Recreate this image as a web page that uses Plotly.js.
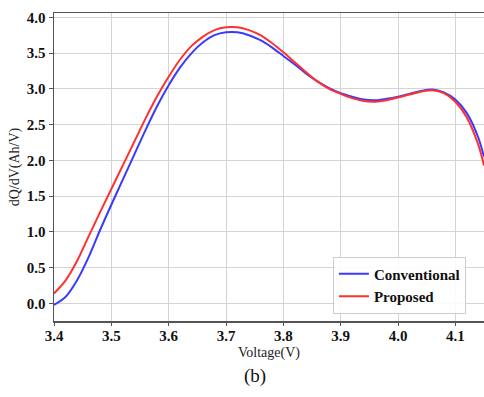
<!DOCTYPE html>
<html><head><meta charset="utf-8">
<script src="https://cdn.plot.ly/plotly-3.0.1.min.js"></script>
<style>html,body{margin:0;padding:0;background:#fff}#c{width:484px;height:397px}</style>
</head><body><div id="c"></div>
<script>
const voltage = [3.40,3.42,3.44,3.46,3.48,3.50,3.52,3.54,3.56,3.58,3.60,3.62,3.64,3.66,3.68,3.70,3.72,3.74,3.76,3.78,3.80,3.82,3.84,3.86,3.88,3.90,3.92,3.94,3.96,3.98,4.00,4.02,4.04,4.06,4.08,4.10,4.12,4.14,4.15];
const conventional = [-0.02,0.09,0.32,0.64,1.02,1.38,1.73,2.08,2.43,2.76,3.05,3.30,3.50,3.65,3.75,3.79,3.79,3.75,3.68,3.58,3.46,3.34,3.21,3.10,3.01,2.94,2.89,2.85,2.84,2.86,2.89,2.93,2.97,2.99,2.95,2.85,2.66,2.32,2.05];
const proposed = [0.14,0.32,0.59,0.93,1.27,1.60,1.93,2.26,2.59,2.90,3.17,3.41,3.60,3.73,3.82,3.86,3.86,3.82,3.75,3.64,3.51,3.37,3.23,3.10,3.00,2.93,2.87,2.83,2.82,2.84,2.88,2.92,2.96,2.98,2.94,2.82,2.60,2.22,1.93];
const xTicks = [3.4,3.5,3.6,3.7,3.8,3.9,4.0,4.1];
const yTicks = [0.0,0.5,1.0,1.5,2.0,2.5,3.0,3.5,4.0];

const serif = "Liberation Serif, Times New Roman, serif";
const traces = [
  {x: voltage, y: conventional, name: "<b>Conventional</b>", mode: "lines", line: {color: "#3a3aff", width: 2, shape: "spline", smoothing: 0.8}},
  {x: voltage, y: proposed, name: "<b>Proposed</b>", mode: "lines", line: {color: "#ff3030", width: 2, shape: "spline", smoothing: 0.8}}
];
const layout = {
  width: 484, height: 397,
  margin: {l: 54, r: 0, t: 13, b: 76},
  paper_bgcolor: "#fff", plot_bgcolor: "#fff",
  font: {family: serif, color: "#111"},
  showlegend: true,
  xaxis: {
    range: [3.4, 4.15], tickvals: xTicks, ticktext: xTicks.map(v => "<b>" + v.toFixed(1) + "</b>"),
    tickfont: {size: 15, family: serif, color: "#111"},
    showgrid: true, gridcolor: "#d4d4d4", gridwidth: 1, zeroline: false,
    showline: true, linecolor: "#555", linewidth: 1.5, mirror: true,
    ticks: "outside", ticklen: 3, tickcolor: "#555", ticklabelstandoff: -3,
    title: {text: "Voltage(V)", font: {size: 14, family: serif, color: "#222"}, standoff: 4}
  },
  yaxis: {
    range: [-0.245, 4.06], tickvals: yTicks, ticktext: yTicks.map(v => "<b>" + v.toFixed(1) + "</b>"),
    tickfont: {size: 15, family: serif, color: "#111"},
    showgrid: true, gridcolor: "#d4d4d4", gridwidth: 1, zeroline: false,
    showline: true, linecolor: "#555", linewidth: 1.5,
    ticks: "outside", ticklen: 4, tickcolor: "#555",
    title: {text: "dQ/dV(Ah/V)", font: {size: 14, family: serif, color: "#222"}, standoff: 4}
  },
  legend: {
    x: 0.958, y: 0.024, xanchor: "right", yanchor: "bottom",
    bgcolor: "rgba(255,255,255,0.9)", bordercolor: "#ccc", borderwidth: 1,
    font: {size: 15, family: serif, color: "#111"}, tracegroupgap: 2
  },
  annotations: [
    {text: "(b)", xref: "paper", yref: "paper", x: 0.467, y: -0.18, xanchor: "center", yanchor: "middle",
     showarrow: false, font: {size: 19, family: serif, color: "#111"}}
  ]
};
Plotly.newPlot("c", traces, layout, {displayModeBar: false, staticPlot: true});
</script>
</body></html>
